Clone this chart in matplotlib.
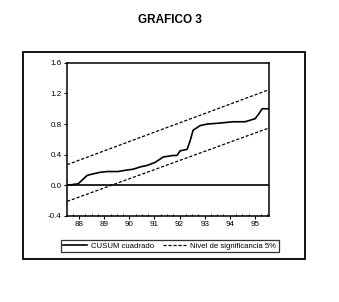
import numpy as np
import matplotlib
matplotlib.use('Agg')
import matplotlib.pyplot as plt
from matplotlib.patches import Rectangle
from matplotlib.ticker import MultipleLocator

plt.rcParams['font.family'] = ['Liberation Sans', 'DejaVu Sans']

# CUSUM cuadrado (fractional years)
years = [87.52, 87.96, 88.32, 88.56, 88.84, 89.12, 89.55, 89.91, 90.15, 90.43,
         90.71, 91.03, 91.35, 91.75, 91.90, 92.02, 92.30, 92.42, 92.54, 92.82,
         93.10, 93.50, 94.14, 94.61, 95.01, 95.15, 95.29, 95.57]
cusum = [0.00, 0.02, 0.13, 0.15, 0.17, 0.18, 0.18, 0.20, 0.21, 0.24,
         0.26, 0.30, 0.37, 0.39, 0.39, 0.45, 0.47, 0.58, 0.72, 0.78,
         0.80, 0.81, 0.83, 0.83, 0.87, 0.93, 1.00, 1.00]

# bandas al 5%
band_x = [87.52, 95.57]
upper = [0.27, 1.25]
lower = [-0.21, 0.75]

year_ticks = [88, 89, 90, 91, 92, 93, 94, 95]
year_labels = ['88', '89', '90', '91', '92', '93', '94', '95']
y_ticks = [-0.4, 0.0, 0.4, 0.8, 1.2, 1.6]


def main():
    fig = plt.figure(figsize=(3.39, 3.02), dpi=100)
    fig.patches.append(Rectangle((0.068, 0.142), 0.832, 0.686, transform=fig.transFigure,
                                 fill=False, edgecolor='black', linewidth=1.3))
    fig.text(0.5, 0.934, 'GRAFICO 3', ha='center', va='center', fontsize=8.5, fontweight='bold')

    ax = fig.add_axes([0.198, 0.285, 0.596, 0.507])
    ax.plot(years, cusum, color='black', linewidth=1.2, label='CUSUM cuadrado')
    ax.plot(band_x, upper, color='black', linestyle=(0, (2.5, 1.5)), linewidth=0.9,
            label='Nivel de significancia 5%')
    ax.plot(band_x, lower, color='black', linestyle=(0, (2.5, 1.5)), linewidth=0.9)
    ax.axhline(0.0, color='black', linewidth=1.2)

    ax.set_xlim(87.52, 95.57)
    ax.set_ylim(-0.4, 1.6)
    ax.set_yticks(y_ticks)
    ax.set_yticklabels(['%.1f' % v for v in y_ticks])
    ax.set_xticks(year_ticks)
    ax.set_xticklabels(year_labels)
    ax.xaxis.set_minor_locator(MultipleLocator(0.25))
    ax.tick_params(axis='both', labelsize=5.8, length=2, width=0.8, pad=2)
    ax.tick_params(axis='x', which='minor', length=1.5, direction='in')
    for s in ax.spines.values():
        s.set_linewidth(1.1)

    leg = fig.legend(loc='center', bbox_to_anchor=(0.501, 0.185), ncol=2, fontsize=5.6,
                     frameon=True, fancybox=False, handlelength=3.0, columnspacing=1.2,
                     handletextpad=0.5, borderpad=0.3)
    leg.get_frame().set_edgecolor('black')
    leg.get_frame().set_linewidth(0.9)

    fig.savefig('out.png', dpi=100)


if __name__ == '__main__':
    main()
